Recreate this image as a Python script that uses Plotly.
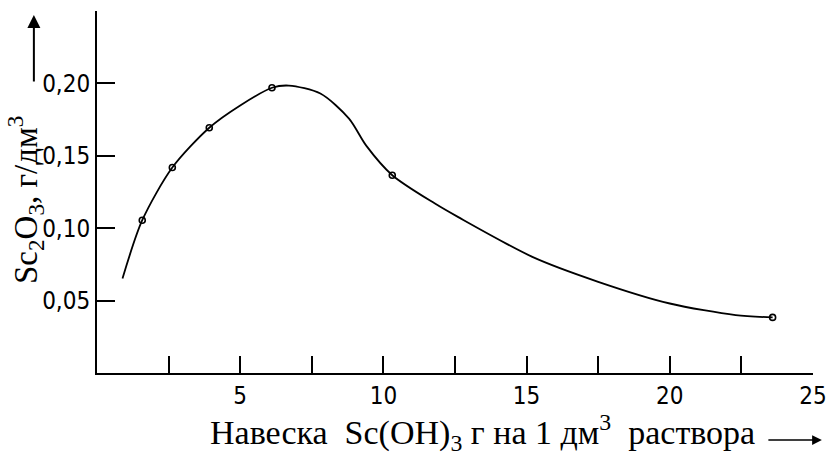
import plotly.graph_objects as go

# measured points (open circles)
point_x = [1.58, 2.63, 3.92, 6.11, 10.31, 23.59]
point_y = [0.1055, 0.1419, 0.1694, 0.197, 0.1366, 0.0384]

# smooth curve
curve_x = [0.89, 1.58, 2.63, 3.92, 5.0, 6.11, 6.7, 7.8, 8.8, 9.4, 10.31, 11.8, 12.6, 15.2, 17.5, 20.0, 22.3, 23.59]
curve_y = [0.0653, 0.1055, 0.1419, 0.1694, 0.1848, 0.197, 0.1985, 0.193, 0.1757, 0.157, 0.1366, 0.117, 0.1078, 0.0802, 0.063, 0.048, 0.040, 0.0384]

x_tickvals = [2.5, 5, 7.5, 10, 12.5, 15, 17.5, 20, 22.5, 25]
x_ticktext = ["", "5", "", "10", "", "15", "", "20", "", "25"]
y_tickvals = [0.05, 0.10, 0.15, 0.20]
y_ticktext = ["0,05", "0,10", "0,15", "0,20"]

x_title = "Навеска  Sc(OH)<sub>3</sub> г на 1 дм<sup>3</sup>  раствора"
y_title = "Sc<sub>2</sub>O<sub>3</sub>, г/дм<sup>3</sup>"

W, H = 838, 456
L, R, T, B = 97, 15, 11, 83
pw, ph = W - L - R, H - T - B


def px(X):
    return (X - L) / pw


def py(Y):
    return (H - B - Y) / ph


fig = go.Figure()
fig.add_trace(go.Scatter(x=curve_x, y=curve_y, mode="lines",
                         line=dict(color="black", width=1.8, shape="spline", smoothing=0.8),
                         hoverinfo="skip", showlegend=False))
fig.add_trace(go.Scatter(x=point_x, y=point_y, mode="markers",
                         marker=dict(symbol="circle-open", size=6, color="black", line=dict(width=1.6)),
                         showlegend=False))

tick_font = dict(family="DejaVu Sans Condensed, DejaVu Sans, sans-serif", size=24, color="black")
serif_x = dict(family="Liberation Serif, Times New Roman, serif", size=34, color="black")
serif_y = dict(family="Liberation Serif, Times New Roman, serif", size=33, color="black")

fig.update_xaxes(range=[0, 25], showgrid=False, zeroline=False, showline=True, linecolor="black", linewidth=2,
                 ticks="inside", ticklen=17, tickwidth=1.5, tickcolor="black",
                 tickvals=x_tickvals, ticktext=x_ticktext, tickfont=tick_font)
fig.update_yaxes(range=[0, 0.25], showgrid=False, zeroline=False, showline=True, linecolor="black", linewidth=2,
                 ticks="inside", ticklen=18, tickwidth=1.5, tickcolor="black",
                 tickvals=y_tickvals, ticktext=y_ticktext, tickfont=tick_font)

fig.update_layout(
    width=W, height=H, margin=dict(l=L, r=R, t=T, b=B),
    plot_bgcolor="white", paper_bgcolor="white",
    annotations=[
        dict(text=x_title, xref="paper", yref="paper", x=px(210), y=py(432),
             xanchor="left", yanchor="middle", showarrow=False, font=serif_x),
        dict(text=y_title, xref="paper", yref="paper", x=px(25), y=py(200),
             xanchor="center", yanchor="middle", textangle=-90, showarrow=False, font=serif_y),
        dict(text="", xref="paper", yref="paper", x=px(33), y=py(15), ax=0, ay=68,
             showarrow=True, arrowhead=2, arrowsize=1.3, arrowwidth=2, arrowcolor="black"),
        dict(text="", xref="paper", yref="paper", x=px(832), y=py(440), ax=-55, ay=0,
             showarrow=True, arrowhead=2, arrowsize=1.3, arrowwidth=1.5, arrowcolor="black"),
    ],
)

fig.write_html("out.html", config={"displayModeBar": False},
               post_script="document.body.style.margin='0';document.body.style.overflow='hidden';")
